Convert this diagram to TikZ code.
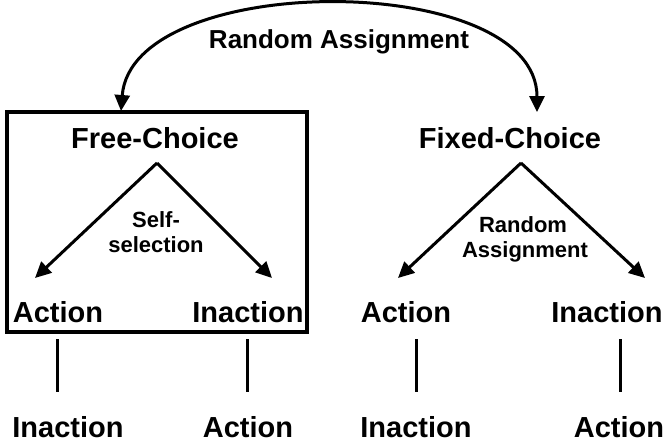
\documentclass[tikz,border=0pt]{standalone}
\usepackage{fontspec}
\setmainfont{Liberation Sans}
\usetikzlibrary{arrows.meta}
\begin{document}
\begin{tikzpicture}[x=1pt,y=-1pt,
  big/.style={inner sep=0pt, anchor=base, font=\bfseries\fontsize{29}{32}\selectfont},
  small/.style={inner sep=0pt, anchor=base, font=\bfseries\fontsize{22}{25}\selectfont},
  toplabel/.style={inner sep=0pt, anchor=base, font=\bfseries\fontsize{26}{29}\selectfont},
  arr/.style={line width=3pt, -{Triangle[length=16pt,width=15pt]}},
  dblarr/.style={line width=3pt, {Triangle[length=16pt,width=15pt]}-{Triangle[length=16pt,width=15pt]}},
  stem/.style={line width=3pt},
  frame/.style={draw, line width=3.5pt, inner sep=0pt, minimum width=300pt, minimum height=220pt}]
\useasboundingbox (0,0) rectangle (666,442);

% frame around free-choice
\node[frame] (freebox) at (157,222) {};

% top assignment
\node[toplabel] (ratop) at (339,48) {Random Assignment};
\coordinate (lefttip) at (121,111);
\coordinate (righttip) at (537,112);
\draw[dblarr] (lefttip) .. controls (132,-30) and (537,-30) .. (righttip);

% headings
\node[big] (free) at (155,148) {Free-Choice};
\node[big] (fixed) at (510,148) {Fixed-Choice};

% left tree
\coordinate (lapex) at (157,163);
\coordinate (ltipA) at (35,278);
\coordinate (ltipB) at (272,278);
\draw[arr] (lapex) -- (ltipA);
\draw[arr] (lapex) -- (ltipB);
\node[small] (self1) at (156,227) {Self-};
\node[small] (self2) at (156,252) {selection};

% right tree
\coordinate (rapex) at (521,163);
\coordinate (rtipA) at (398,278);
\coordinate (rtipB) at (645,278);
\draw[arr] (rapex) -- (rtipA);
\draw[arr] (rapex) -- (rtipB);
\node[small] (ra1) at (523,232) {Random};
\node[small] (ra2) at (525,257) {Assignment};

% level two labels
\node[big] (actA) at (58,322) {Action};
\node[big] (inactA) at (248,322) {Inaction};
\node[big] (actB) at (406,322) {Action};
\node[big] (inactB) at (607,322) {Inaction};

% stems
\coordinate (s1t) at (57,339); \coordinate (s1b) at (57,392);
\coordinate (s2t) at (247,339); \coordinate (s2b) at (247,392);
\coordinate (s3t) at (416,339); \coordinate (s3b) at (416,392);
\coordinate (s4t) at (620,339); \coordinate (s4b) at (620,392);
\draw[stem] (s1t) -- (s1b);
\draw[stem] (s2t) -- (s2b);
\draw[stem] (s3t) -- (s3b);
\draw[stem] (s4t) -- (s4b);

% bottom labels
\node[big] (botA) at (68,437) {Inaction};
\node[big] (botB) at (248,437) {Action};
\node[big] (botC) at (416,437) {Inaction};
\node[big] (botD) at (619,437) {Action};
\end{tikzpicture}
\end{document}
